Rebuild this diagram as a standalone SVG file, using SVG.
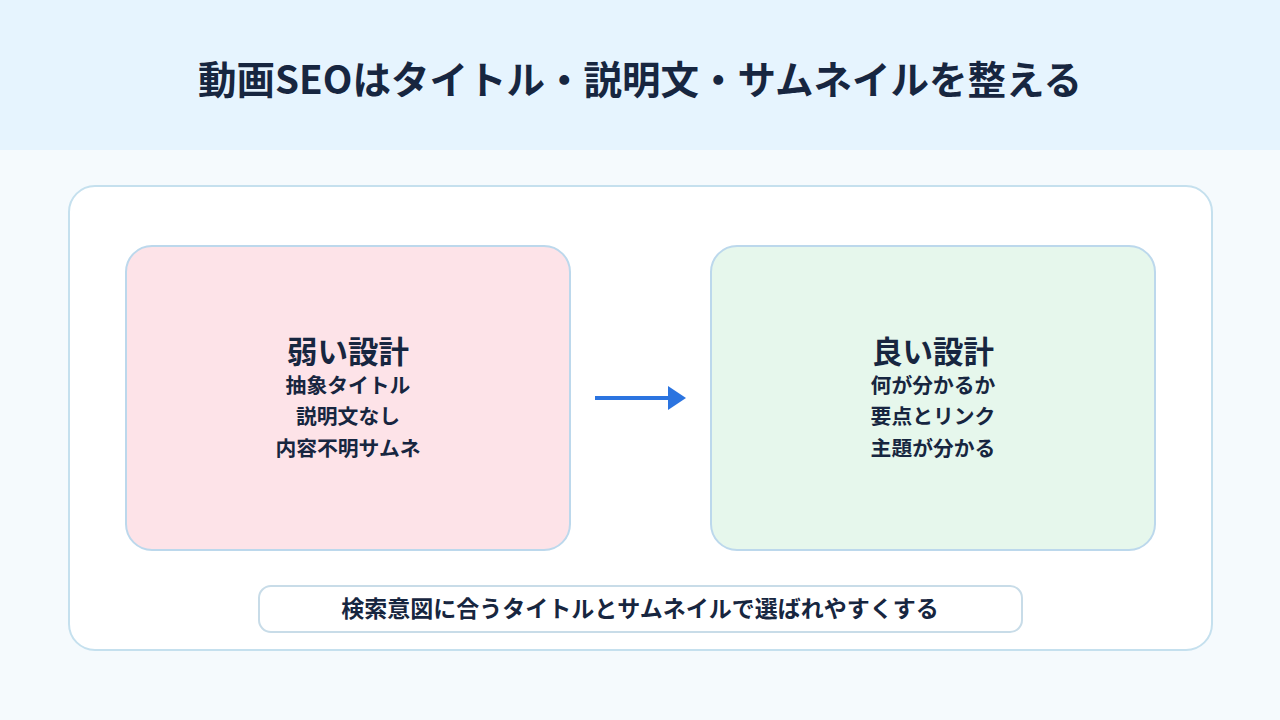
<svg xmlns="http://www.w3.org/2000/svg" width="1280" height="720" viewBox="0 0 1280 720">
<style>
text{font-family:"Noto Sans CJK JP","Noto Sans",sans-serif;font-weight:700;fill:#172640;text-anchor:middle}
.title{font-size:38.5px}
.h{font-size:30.5px}
.s{font-size:20.8px}
.b{font-size:23px}
.box{stroke:#BCD8EC;stroke-width:2}
</style>
<defs>
<marker id="ah" markerWidth="6" markerHeight="6" refX="0" refY="3" orient="auto" markerUnits="strokeWidth">
<path d="M0,0 L4.5,3 L0,6 Z" fill="#2B74E0"/>
</marker>
</defs>
<rect width="1280" height="720" fill="#F5FAFD"/>
<rect width="1280" height="150" fill="#E6F4FE"/>
<text class="title" x="640" y="94">動画SEOはタイトル・説明文・サムネイルを整える</text>
<rect x="69" y="186" width="1143" height="464" rx="26" fill="#FFFFFF" stroke="#C5E0EE" stroke-width="2"/>
<g id="weak">
<rect class="box" x="126" y="246" width="444" height="304" rx="26" fill="#FDE3E8"/>
<text class="h" x="348" y="363">弱い設計</text>
<text class="s" x="348" y="393">抽象タイトル</text>
<text class="s" x="348" y="424">説明文なし</text>
<text class="s" x="348" y="456">内容不明サムネ</text>
</g>
<g id="good">
<rect class="box" x="711" y="246" width="444" height="304" rx="26" fill="#E6F7EC"/>
<text class="h" x="933" y="363">良い設計</text>
<text class="s" x="933" y="393">何が分かるか</text>
<text class="s" x="933" y="424">要点とリンク</text>
<text class="s" x="933" y="456">主題が分かる</text>
</g>
<g id="connectors">
<line x1="595" y1="398" x2="668" y2="398" stroke="#2B74E0" stroke-width="4" marker-end="url(#ah)"/>
</g>
<g id="summary">
<rect x="259" y="586" width="763" height="46" rx="12" fill="#FFFFFF" stroke="#C8DCE8" stroke-width="2"/>
<text class="b" x="640" y="617">検索意図に合うタイトルとサムネイルで選ばれやすくする</text>
</g>
</svg>
